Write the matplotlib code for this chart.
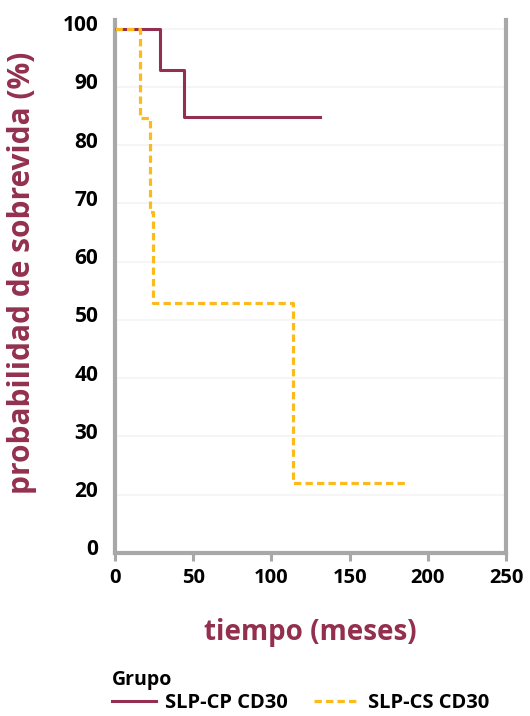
import matplotlib
matplotlib.use("Agg")
import matplotlib.pyplot as plt
import matplotlib.transforms as mtransforms
from matplotlib.lines import Line2D

plt.rcParams['font.family'] = ['Open Sans', 'DejaVu Sans']

# Data
cp_time = [0, 28.8, 44.3, 131]
cp_surv = [100, 92.9, 84.8, 84.8]
cs_time = [0, 16, 22.4, 24.1, 113.6, 186]
cs_surv = [100, 84.6, 68.6, 52.9, 22.0, 22.0]
x_ticks = [0, 50, 100, 150, 200, 250]
y_ticks = [10, 20, 30, 40, 50, 60, 70, 80, 90, 100]
y_tick_labels = ["0", "20", "30", "40", "50", "60", "70", "80", "90", "100"]
series_names = ["SLP-CP CD30", "SLP-CS CD30"]

maroon = "#93304F"
yellow = "#FDBB1B"
gray = "#A8A8A8"
dash = (2.3, 1.3)

fig = plt.figure(figsize=(5.30, 7.16), dpi=100)
ax = fig.add_axes([115/530, 1 - 553/716, (506 - 115)/530, (553 - 20)/716])

for y in y_ticks[1:]:
    ax.axhline(y, color="#F3F3F3", lw=1.2, zorder=0)

ax.plot(cp_time, cp_surv, drawstyle="steps-post", color=maroon, lw=2.2, zorder=3)
ax.plot(cs_time, cs_surv, drawstyle="steps-post", color=yellow, lw=2.3,
        dashes=dash, dash_capstyle="butt", zorder=4)

ax.set_xlim(0, 250)
ax.set_ylim(10, 101.5)
ax.set_xticks(x_ticks)
ax.set_xticklabels([str(v) for v in x_ticks], fontsize=14.5, fontweight="bold")
ax.set_yticks(y_ticks)
ax.set_yticklabels(y_tick_labels, fontsize=15, fontweight="bold")
ax.tick_params(axis="y", length=0, pad=12)
ax.tick_params(axis="x", length=6, width=2.2, color=gray, pad=5)
offset = mtransforms.ScaledTranslation(0, 4/72, fig.dpi_scale_trans)
for lab in ax.get_yticklabels():
    lab.set_transform(lab.get_transform() + offset)

for side in ["left", "right", "bottom"]:
    ax.spines[side].set_color(gray)
    ax.spines[side].set_linewidth(3)
ax.spines["top"].set_visible(False)

ax.set_xlabel("tiempo (meses)", fontsize=20, fontweight="bold", color=maroon)
ax.set_ylabel("probabilidad de sobrevida (%)", fontsize=21.5, fontweight="bold", color=maroon)
ax.xaxis.set_label_coords(0.5, -0.122)
ax.yaxis.set_label_coords(-0.2, 0.525)

handles = [Line2D([0], [0], color=maroon, lw=2.2),
           Line2D([0], [0], color=yellow, lw=2.3, dashes=dash, dash_capstyle="butt")]
leg = fig.legend(handles, series_names, title="Grupo", ncol=2, loc="upper left",
                 bbox_to_anchor=(102/530, 1 - 660/716), frameon=False,
                 prop={"size": 14.5, "weight": "bold"}, title_fontproperties={"size": 14, "weight": "bold"},
                 handlelength=2.2, handletextpad=0.45, columnspacing=1.3, borderpad=0, labelspacing=0.15)
leg._legend_box.align = "left"

fig.savefig("out.png", dpi=100)
